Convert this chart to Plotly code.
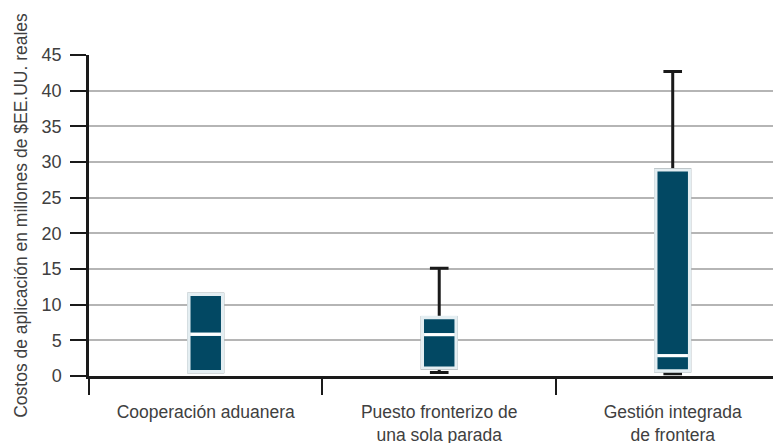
import plotly.graph_objects as go

categories = ["Cooperación aduanera", "Puesto fronterizo de<br>una sola parada", "Gestión integrada<br>de frontera"]
lower = [0.6, 0.5, 0.3]
q1 = [0.6, 1.1, 0.7]
median = [5.85, 5.8, 2.85]
q3 = [11.45, 8.2, 28.9]
upper = [11.45, 15.1, 42.7]
y_ticks = [0, 5, 10, 15, 20, 25, 30, 35, 40, 45]

FILL = "#024863"
FONT = "Liberation Sans, Arial, sans-serif"
TXT = "#404040"

fig = go.Figure()
# whiskers (black)
fig.add_trace(go.Box(
    x=categories, q1=q1, median=median, q3=q3,
    lowerfence=lower, upperfence=upper,
    fillcolor=FILL, line=dict(color="#1a1a1a", width=3),
    width=0.145, whiskerwidth=0.55, boxpoints=False, showlegend=False,
    hoverinfo="skip",
))
# box body with light outline
fig.add_trace(go.Box(
    x=categories, q1=q1, median=median, q3=q3,
    lowerfence=q1, upperfence=q3,
    fillcolor=FILL, line=dict(color="#e4eef2", width=3.4),
    width=0.145, whiskerwidth=0, boxpoints=False, showlegend=False,
))
# white median on top
fig.add_trace(go.Box(
    x=categories, q1=median, median=median, q3=median,
    lowerfence=median, upperfence=median,
    fillcolor="rgba(0,0,0,0)", line=dict(color="#ffffff", width=2.5),
    width=0.125, whiskerwidth=0, boxpoints=False, showlegend=False,
    hoverinfo="skip",
))

fig.update_layout(
    width=781, height=443,
    margin=dict(l=81, r=0, t=47, b=75, autoexpand=False),
    paper_bgcolor="white", plot_bgcolor="white",
    boxmode="overlay",
    font=dict(family=FONT, size=17, color=TXT),
)
fig.update_xaxes(
    type="category", range=[-0.5, 2.498], tickson="boundaries",
    ticks="outside", ticklen=16, tickwidth=2, tickcolor="#1a1a1a",
    showline=True, linecolor="#1a1a1a", linewidth=2.5,
    showgrid=False, tickfont=dict(size=17.5, color=TXT), automargin=False,
    ticklabelstandoff=18,
)
fig.update_yaxes(
    range=[0, 45], tickvals=y_ticks, ticktext=[str(v) for v in y_ticks],
    ticks="outside", ticklen=16, tickwidth=2, tickcolor="#1a1a1a",
    showline=True, linecolor="#1a1a1a", linewidth=2.5,
    showgrid=True, gridcolor="#b5b5b5", gridwidth=1.5, zeroline=False,
    tickfont=dict(size=18, color=TXT), automargin=False,
    ticklabelstandoff=5,
    title=dict(text="Costos de aplicación en millones de $EE.UU. reales",
               font=dict(size=17.5, color=TXT), standoff=10),
)

fig.write_html("out.html")
